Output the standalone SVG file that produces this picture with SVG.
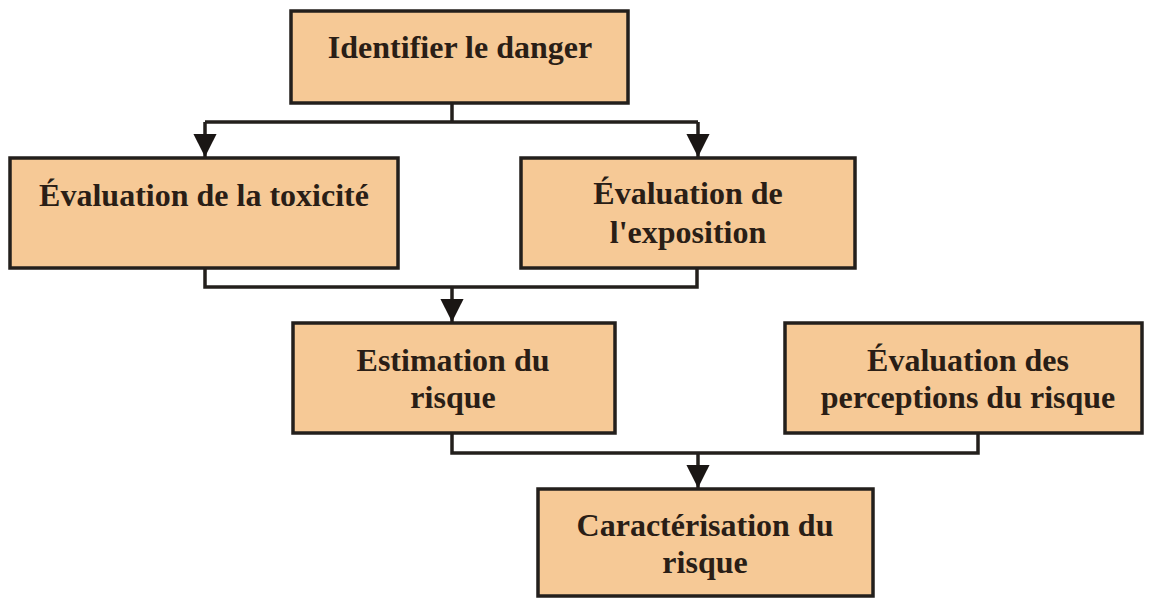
<svg xmlns="http://www.w3.org/2000/svg" width="1150" height="599" viewBox="0 0 1150 599">
<style>
.box{fill:#F6C996;stroke:#231F1C;stroke-width:3.5}
.t{font-family:"Liberation Serif",serif;font-weight:bold;font-size:32px;fill:#2A1E16;text-anchor:middle}
.c{fill:none;stroke:#231F1C;stroke-width:3.5}
</style>
<defs>
<marker id="ah" viewBox="0 0 10 10" refX="10" refY="5" markerWidth="7" markerHeight="6.6" orient="auto" markerUnits="strokeWidth">
<path d="M0,0 L10,5 L0,10 z" fill="#1A1614"/>
</marker>
</defs>
<rect width="1150" height="599" fill="#FFFFFF"/>
<g id="connectors">
<path class="c" d="M452,103 V122 M205,122 H698"/>
<path class="c" d="M205,122 V157" marker-end="url(#ah)"/>
<path class="c" d="M698,122 V157" marker-end="url(#ah)"/>
<path class="c" d="M205,268 V287 H697 V268"/>
<path class="c" d="M452,287 V322" marker-end="url(#ah)"/>
<path class="c" d="M452,433 V453 H978 V433"/>
<path class="c" d="M698,453 V488" marker-end="url(#ah)"/>
</g>
<g id="n1"><rect class="box" x="291" y="11" width="337" height="92"/><text class="t" x="460" y="58">Identifier le danger</text></g>
<g id="n2"><rect class="box" x="10" y="158" width="388" height="110"/><text class="t" x="204" y="206">Évaluation de la toxicité</text></g>
<g id="n3"><rect class="box" x="521" y="158" width="334" height="110"/><text class="t" x="688" y="204">Évaluation de</text><text class="t" x="688" y="243">l'exposition</text></g>
<g id="n4"><rect class="box" x="293" y="323" width="322" height="110"/><text class="t" x="453" y="371">Estimation du</text><text class="t" x="453" y="408">risque</text></g>
<g id="n5"><rect class="box" x="785" y="323" width="357" height="110"/><text class="t" x="968" y="371">Évaluation des</text><text class="t" x="968" y="408">perceptions du risque</text></g>
<g id="n6"><rect class="box" x="538" y="489" width="335" height="107"/><text class="t" x="705" y="536">Caractérisation du</text><text class="t" x="705" y="573">risque</text></g>
</svg>
